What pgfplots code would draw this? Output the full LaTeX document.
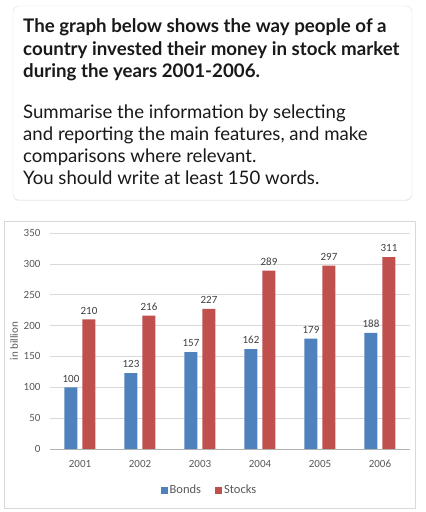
\documentclass[border=0pt]{standalone}
\usepackage{fontspec}
\setmainfont{Carlito}
\newfontfamily\lato{Lato}
\usepackage{pgfplots}
\pgfplotsset{compat=1.18}
\usetikzlibrary{shadows}
\definecolor{bondsblue}{HTML}{4F81BD}
\definecolor{stocksred}{HTML}{C0504D}
\definecolor{tickgray}{HTML}{595959}
\definecolor{gridgray}{HTML}{D9D9D9}
\begin{document}
\begin{tikzpicture}[x=1pt,y=1pt]
\useasboundingbox (0,0) rectangle (426,512);
\fill[white] (0,0) rectangle (426,512);
\draw[draw=black!12, fill=white, rounded corners=6pt, drop shadow={opacity=0.10,shadow xshift=0pt,shadow yshift=-1pt}] (13,312) rectangle (412,506);
\begin{scope}[every node/.style={anchor=base west, inner sep=0pt, text=black!90}]
\node[font=\lato\bfseries\fontsize{18.7}{22}\selectfont] at (23,479) {The graph below shows the way people of a};
\node[font=\lato\bfseries\fontsize{18.7}{22}\selectfont] at (23,456) {country invested their money in stock market};
\node[font=\lato\bfseries\fontsize{18.7}{22}\selectfont] at (23,434) {during the years 2001-2006.};
\node[font=\lato\fontsize{18.6}{22}\selectfont] at (23,393) {Summarise the information by selecting};
\node[font=\lato\fontsize{18.6}{22}\selectfont] at (23,371) {and reporting the main features, and make};
\node[font=\lato\fontsize{18.6}{22}\selectfont] at (23,349) {comparisons where relevant.};
\node[font=\lato\fontsize{18.6}{22}\selectfont] at (23,327) {You should write at least 150 words.};
\end{scope}
\draw[black!15] (4,4) rectangle (415,291);
\node[rotate=90, font=\fontsize{11}{12}\selectfont, text=tickgray] at (14,171) {in billion};
\begin{axis}[
  at={(50pt,63pt)}, anchor=south west,
  scale only axis, width=360pt, height=216pt,
  xmin=-0.5, xmax=5.5, ymin=0, ymax=350,
  ybar=5pt, bar width=13pt,
  xtick=data, xticklabels={2001,2002,2003,2004,2005,2006},
  ytick={0,50,...,350},
  axis x line*=bottom, axis y line*=left,
  y axis line style={draw=none},
  x axis line style={draw=black!30, -},
  major tick length=0pt,
  ymajorgrids, grid style={gridgray, line width=0.6pt},
  /pgf/number format/assume math mode=true,
  xticklabel style={font=\fontsize{11}{12}\selectfont, text=tickgray, yshift=-8pt},
  yticklabel style={font=\fontsize{11}{12}\selectfont, text=tickgray, xshift=-6pt},
  nodes near coords,
  every node near coord/.append style={font=\fontsize{11}{12}\selectfont, text=black!75, yshift=1.5pt},
  legend style={at={(0.443,-0.19)}, anchor=center, draw=none, fill=none, legend columns=2,
    font=\fontsize{12.5}{14}\selectfont, text=tickgray,
    /tikz/every even column/.append style={column sep=12pt}},
  legend image code/.code={\fill[#1] (0pt,-3.5pt) rectangle (7pt,3.5pt);},
]
\addplot[fill=bondsblue, draw=none] coordinates {(0,100) (1,123) (2,157) (3,162) (4,179) (5,188)};
\addplot[fill=stocksred, draw=none] coordinates {(0,210) (1,216) (2,227) (3,289) (4,297) (5,311)};
\legend{Bonds, Stocks}
\end{axis}
\end{tikzpicture}
\end{document}
